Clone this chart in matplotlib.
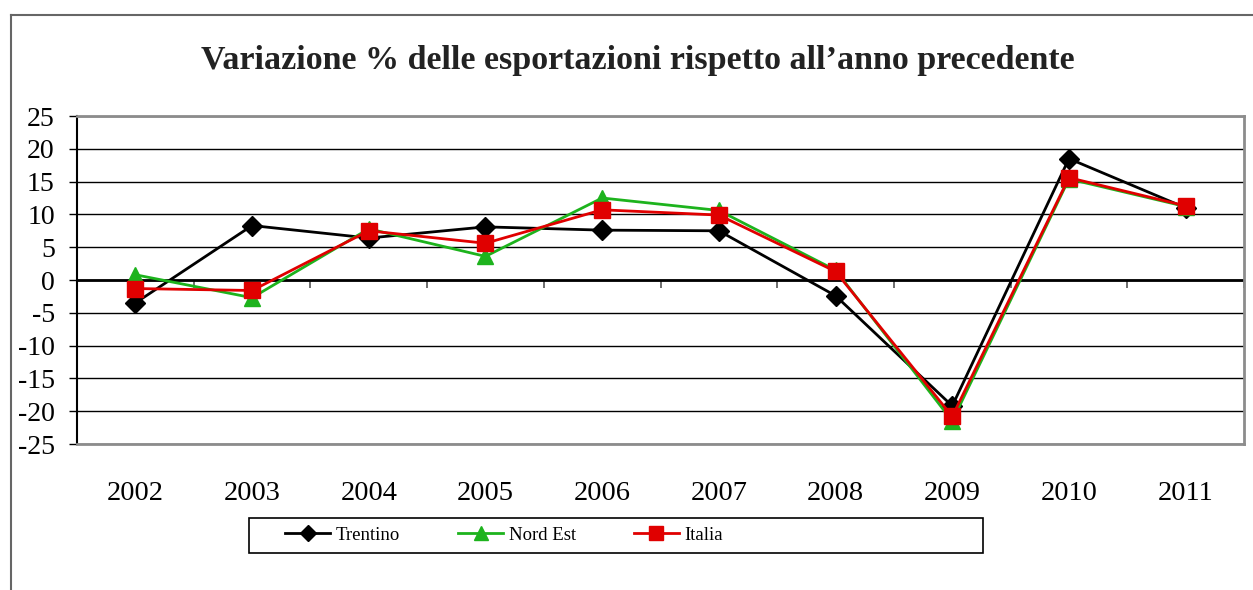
import matplotlib.pyplot as plt
from matplotlib.lines import Line2D
from matplotlib.patches import Rectangle

plt.rcParams['font.family'] = ['Liberation Serif', 'DejaVu Serif']

anni = ['2002', '2003', '2004', '2005', '2006', '2007', '2008', '2009', '2010', '2011']
trentino = [-3.5, 8.3, 6.4, 8.1, 7.6, 7.5, -2.4, -19.2, 18.5, 11.0]
nord_est = [0.8, -2.7, 7.8, 3.6, 12.5, 10.6, 1.5, -21.5, 15.4, 11.2]
italia = [-1.3, -1.6, 7.5, 5.6, 10.7, 9.9, 1.3, -20.8, 15.6, 11.3]
y_ticks = [25, 20, 15, 10, 5, 0, -5, -10, -15, -20, -25]

fig = plt.figure(figsize=(12.53, 5.9), dpi=100)
ax = fig.add_axes([77/1253, 146/590, (1244-77)/1253, (444-116)/590])

x = list(range(len(anni)))

# grid lines
for v in y_ticks:
    ax.axhline(v, color='black', lw=1.0, zorder=1)
ax.axhline(0, color='black', lw=2.0, zorder=2)

ax.plot(x, trentino, color='black', lw=2, marker='D', markersize=10,
        label='Trentino', zorder=3)
ax.plot(x, nord_est, color='#1db31d', lw=2, marker='^', markersize=12,
        label='Nord Est', zorder=4)
ax.plot(x, italia, color='#e00000', lw=2, marker='s', markersize=12,
        label='Italia', zorder=5)

ax.set_xlim(-0.5, len(anni) - 0.5)
ax.set_ylim(-25, 25)
ax.set_yticks(y_ticks)
ax.set_yticklabels([str(v) for v in y_ticks])
ax.tick_params(axis='y', direction='out', length=6, width=1, pad=10, labelsize=20)

ax.set_xticks(x)
ax.set_xticklabels(anni)
ax.tick_params(axis='x', length=0, pad=27, labelsize=20.5)

# boundary ticks on the zero line
sec = ax.secondary_xaxis(0.5)
sec.xaxis.set_ticks_position('bottom')
sec.set_xticks([i + 0.5 for i in range(len(anni))])
sec.set_xticklabels([])
sec.tick_params(axis='x', direction='out', length=6, width=1.2, colors='#555555')
for s in sec.spines.values():
    s.set_visible(False)

for s in ['top', 'right', 'bottom']:
    ax.spines[s].set_color('#8c8c8c')
    ax.spines[s].set_linewidth(2)
ax.spines['left'].set_color('black')
ax.spines['left'].set_linewidth(1.5)

fig.text(0.509, 0.898, 'Variazione % delle esportazioni rispetto all\u2019anno precedente',
         ha='center', va='center', fontsize=24.5, fontweight='bold', color='#222222')

leg = fig.legend(loc='center left', bbox_to_anchor=(285/1253, 55/590), ncol=3,
                 fontsize=13.5, frameon=False,
                 handlelength=2.4, handletextpad=0.3, columnspacing=3.1,
                 borderpad=0, borderaxespad=0, markerscale=0.8)
fig.add_artist(Rectangle((249/1253, 37/590), (983-249)/1253, 35/590, fill=False,
                         edgecolor='black', lw=1.2, transform=fig.transFigure))

# outer chart frame
fig.add_artist(Line2D([11/1253, 11/1253], [0, 575/590], color='#666666', lw=1.5,
                      transform=fig.transFigure))
fig.add_artist(Line2D([11/1253, 1.0], [575/590, 575/590], color='#666666', lw=1.5,
                      transform=fig.transFigure))

fig.savefig('out.png', dpi=100)
